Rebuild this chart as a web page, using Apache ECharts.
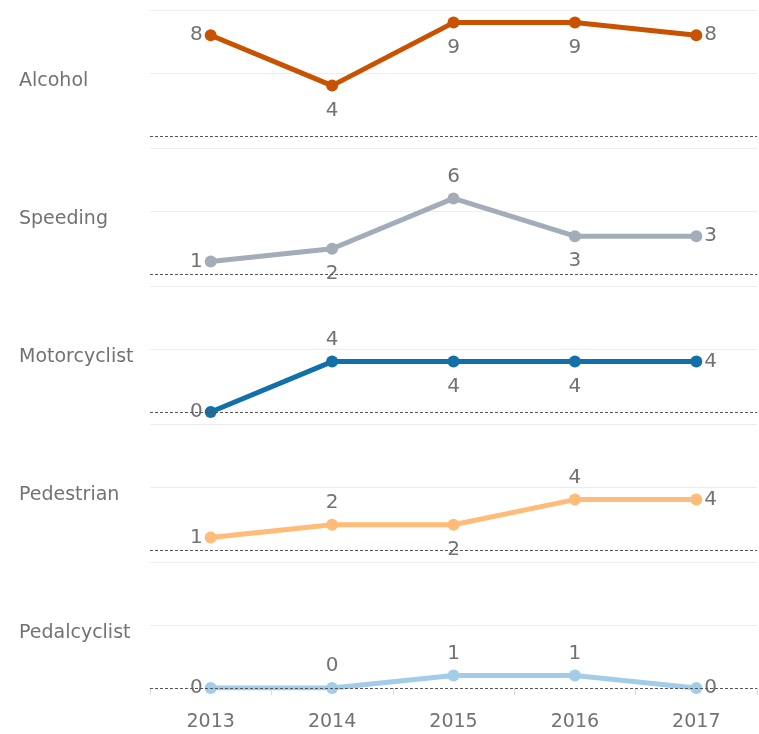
<!DOCTYPE html>
<html>
<head>
<meta charset="utf-8">
<script src="https://cdn.jsdelivr.net/npm/echarts@6/dist/echarts.min.js"></script>
<style>
html,body{margin:0;padding:0;background:#fff;}
#chart{width:759px;height:734px;}
</style>
</head>
<body>
<div id="chart"></div>
<script>
var years = ['2013', '2014', '2015', '2016', '2017'];
var rowNames = ['Alcohol', 'Speeding', 'Motorcyclist', 'Pedestrian', 'Pedalcyclist'];
var alcohol = [8, 4, 9, 9, 8];
var speeding = [1, 2, 6, 3, 3];
var motorcyclist = [0, 4, 4, 4, 4];
var pedestrian = [1, 2, 2, 4, 4];
var pedalcyclist = [0, 0, 1, 1, 0];
var seriesData = [alcohol, speeding, motorcyclist, pedestrian, pedalcyclist];

// styling
var colors = ['#c85200', '#a3acb9', '#1170aa', '#ffbc79', '#a3cce9'];
var labelPos = [
  ['left', 'bottom', 'bottom', 'bottom', 'right'],
  ['left', 'bottom', 'top', 'bottom', 'right'],
  ['left', 'top', 'bottom', 'bottom', 'right'],
  ['left', 'top', 'bottom', 'top', 'right'],
  ['left', 'top', 'top', 'top', 'right']
];
var labelDist = {top: 6, bottom: 9, left: 2, right: 2};
var FONT = 'DejaVu Sans';
var TXT = '#727272';
var panelTop = 10, panelPitch = 138, panelH = 126;

var grids = [], xAxes = [], yAxes = [], series = [], graphics = [];
for (var i = 0; i < rowNames.length; i++) {
  var gTop = panelTop + panelPitch * i;
  var isLast = i === rowNames.length - 1;
  grids.push({left: 150, right: 2, top: gTop, height: panelH});
  xAxes.push({
    type: 'category', gridIndex: i, data: years, boundaryGap: true,
    position: 'bottom', offset: 14,
    axisLine: {show: false},
    axisTick: {show: isLast, length: 7, lineStyle: {color: '#dcdcdc'}},
    axisLabel: {show: isLast, color: TXT, fontFamily: FONT, fontSize: 19, margin: 11},
    splitLine: {show: false}
  });
  yAxes.push({
    type: 'value', gridIndex: i, min: 0, max: 10, interval: 5,
    axisLine: {show: false}, axisTick: {show: false}, axisLabel: {show: false},
    splitLine: {show: true, lineStyle: {color: ['#ffffff', '#ececec', '#ececec'], width: 1}}
  });
  var pts = [];
  for (var j = 0; j < years.length; j++) {
    var pos = labelPos[i][j];
    pts.push({
      value: seriesData[i][j],
      label: {position: pos, distance: labelDist[pos]}
    });
  }
  series.push({
    type: 'line', xAxisIndex: i, yAxisIndex: i,
    data: pts,
    lineStyle: {width: 5, color: colors[i]},
    symbol: 'circle', symbolSize: 12,
    itemStyle: {color: colors[i]},
    label: {show: true, color: TXT, fontFamily: FONT, fontSize: 20},
    markLine: {
      silent: true, symbol: 'none',
      lineStyle: {type: [3, 2], color: '#555555', width: 1},
      label: {show: false},
      data: [{yAxis: 0}]
    },
    z: 3
  });
  graphics.push({
    type: 'text', left: 19, top: gTop + 62,
    style: {text: rowNames[i], fill: TXT, fontFamily: FONT, fontSize: 19}
  });
}

var chart = echarts.init(document.getElementById('chart'));
chart.setOption({
  animation: false,
  grid: grids, xAxis: xAxes, yAxis: yAxes, series: series,
  graphic: graphics
});
</script>
</body>
</html>
